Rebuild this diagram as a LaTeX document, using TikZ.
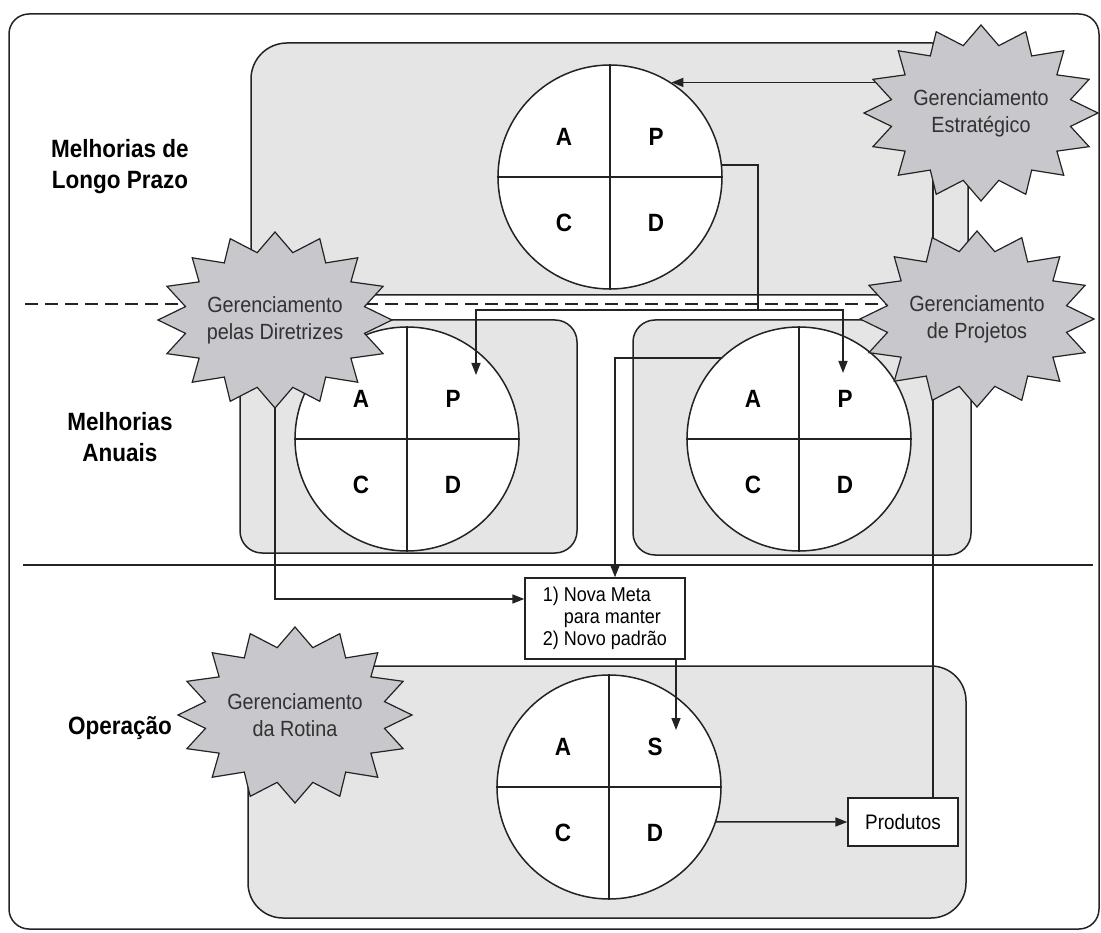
\documentclass[tikz,border=0pt]{standalone}
\usepackage{fontspec}
\setmainfont[FakeStretch=0.9]{Liberation Sans}
\usetikzlibrary{calc,arrows.meta}
\definecolor{gline}{RGB}{35,35,35}
\definecolor{gpanel}{RGB}{229,229,229}
\definecolor{gburst}{RGB}{200,200,204}
\definecolor{gtext}{RGB}{50,50,50}

\tikzset{
  wire/.style={gline,line width=1.5pt},
  arr/.style={wire,-{Triangle[length=12pt,width=9pt]}},
  panel/.style={wire,fill=gpanel},
  wheel/.style={circle,draw=gline,line width=1.5pt,fill=white,minimum size=224pt,inner sep=0pt},
  letter/.style={font=\fontsize{25}{25}\selectfont\bfseries},
  burst/.style={draw=gline,line width=1.2pt,fill=gburst},
  bursttext/.style={align=center,text=gtext,font=\fontsize{22}{27}\selectfont},
  band/.style={align=center,font=\fontsize{25}{31}\selectfont\bfseries},
  note/.style={draw=gline,line width=1.3pt,fill=white,inner sep=0pt},
}

% PDCA wheel: name, centre, top-right letter
\newcommand{\pdca}[3]{%
  \node[wheel] (#1) at (#2) {};
  \draw[wire] (#1.north) -- (#1.south) (#1.west) -- (#1.east);
  \node[letter] (#1a) at ($(#1)+(-46,-40)$) {A};
  \node[letter] (#1p) at ($(#1)+(46,-40)$) {#3};
  \node[letter] (#1c) at ($(#1)+(-46,46)$) {C};
  \node[letter] (#1d) at ($(#1)+(46,46)$) {D};}

% starburst round a named centre
\newcommand{\burst}[2]{%
  \filldraw[burst,shift={(#1)}] plot[domain=0:32,samples=33,variable=\k]
    ({(1-0.22*mod(\k,2))*117*cos(90+11.25*\k)},{(1-0.22*mod(\k,2))*88*sin(90+11.25*\k)}) -- cycle;
  \node[bursttext] (#1txt) at (#1) {#2};}

\begin{document}
\begin{tikzpicture}[x=1pt,y=-1pt]
\useasboundingbox (0,0) rectangle (1101,933);
% frame and panels
\draw[wire,rounded corners=20] (9,14) rectangle (1099,929);
\filldraw[panel,rounded corners=36] (251,43) rectangle (968,295);
\filldraw[panel,rounded corners=22] (240,320) rectangle (577,553);
\filldraw[panel,rounded corners=22] (633,320) rectangle (971,555);
\filldraw[panel,rounded corners=35] (248,666) rectangle (966,918);
\draw[wire,dash pattern=on 13pt off 7pt] (25,304) -- (890,304);
\draw[wire] (23,565) -- (1093,565);

% wheels
\pdca{tc}{610,177}{P}
\pdca{lc}{407,439}{P}
\pdca{rc}{799,439}{P}
\pdca{bc}{609,787}{S}

% boxes
\node[note,minimum width=160,minimum height=81,align=left,font=\fontsize{20}{22}\selectfont] (meta) at (605,618.5)
  {1) Nova Meta\\\phantom{1)~}para manter\\2) Novo padrão};
\node[note,minimum width=110,minimum height=48,font=\fontsize{21}{21}\selectfont] (prod) at (903,822) {Produtos};

% burst centres
\coordinate (estr) at (981,113);
\coordinate (proj) at (977,319);
\coordinate (dirr) at (275,320);
\coordinate (rot) at (295,715);

% connectors
\coordinate (split) at (758,310);
\draw[arr] (estr |- tc.57) -- (tc.57);
\draw[wire] (tc.6) -| (split);
\draw[arr] (split) -| ($(lc)+(69,-64)$);
\draw[arr] (split) -| ($(rc)+(44,-66)$);
\draw[arr] (rc.134) -| ($(meta.north)+(10,0)$);
\draw[arr] (dirr) |- ($(meta.west)+(0,-19.5)$);
\draw[arr] ($(meta.south)+(71,0)$) -- ($(bc)+(67,-57)$);
\draw[arr] (bc.-18) -- (prod.west);
\draw[wire] ($(prod.north)+(30,0)$) -- ($(estr)+(-48,0)$);

% bursts
\burst{estr}{Gerenciamento\\Estratégico}
\burst{proj}{Gerenciamento\\de Projetos}
\burst{dirr}{Gerenciamento\\pelas Diretrizes}
\burst{rot}{Gerenciamento\\da Rotina}

% band labels
\node[band] (longo) at (120,167) {Melhorias de\\Longo Prazo};
\node[band] (anual) at (120,437) {Melhorias\\Anuais};
\node[band] (oper) at (120,728) {Operação};
\end{tikzpicture}
\end{document}
